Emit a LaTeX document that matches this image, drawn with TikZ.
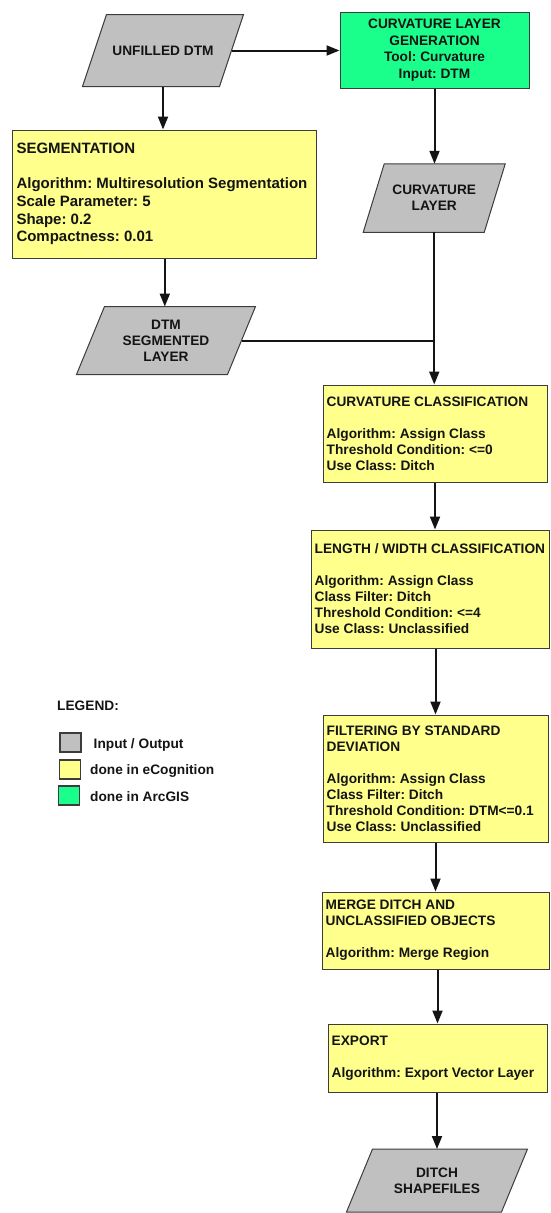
\documentclass[tikz,border=0pt]{standalone}
\usepackage{fontspec}
\setmainfont{Liberation Sans}
\usetikzlibrary{arrows.meta,calc,backgrounds}
\definecolor{iogray}{RGB}{192,192,192}
\definecolor{ecog}{RGB}{255,255,140}
\definecolor{arcg}{RGB}{26,255,140}
\definecolor{edgec}{RGB}{60,60,60}
\definecolor{ink}{RGB}{20,20,20}
\newcommand{\fnt}{\bfseries\fontsize{13.7}{16}\selectfont}
% parallelogram behind a named node: #1 node name, #2 slant (horizontal offset top vs bottom)
\newcommand{\iopara}[2]{%
  \begin{scope}[on background layer]
  \draw[draw=edgec,line width=1pt,fill=iogray]
    ($(#1.north west)+(#2/2,0)$) -- ($(#1.north east)+(#2/2,0)$) --
    ($(#1.south east)+(-#2/2,0)$) -- ($(#1.south west)+(-#2/2,0)$) -- cycle;
  \end{scope}}
\frenchspacing
\begin{document}
\frenchspacing
\begin{tikzpicture}[x=1pt,y=-1pt,
  box/.style={draw=edgec,line width=1pt,inner sep=0pt},
  proc/.style={box,fill=ecog},
  tool/.style={box,fill=arcg,align=center,text=ink,font=\bfseries\fontsize{13.7}{16.5}\selectfont},
  io/.style={line width=1pt,inner sep=0pt,align=center,text=ink,font=\fnt},
  txt/.style={anchor=west,align=left,inner sep=0pt,text=ink,font=\fnt},
  conn/.style={line width=2pt,draw=ink},
  arr/.style={conn,-{Triangle[length=13pt,width=10pt]}},
  keybox/.style={draw=edgec,line width=1.2pt,minimum width=21pt,minimum height=19pt,inner sep=0pt},
  keytxt/.style={anchor=base west,inner sep=0pt,text=ink,font=\fnt}
]
\useasboundingbox (0,0) rectangle (550,1213);

% nodes
\node[io, minimum width=136pt, minimum height=71pt] (ud) at (163,50.5) {UNFILLED DTM};
\iopara{ud}{24}
\node[tool, minimum width=189pt, minimum height=76pt] (gen) at (434.5,50) {CURVATURE LAYER\\GENERATION\\Tool: Curvature\\Input: DTM};

\node[proc, minimum width=304pt, minimum height=128pt] (seg) at (164.8,194) {};
\node[txt, font=\bfseries\fontsize{15}{17.7}\selectfont] (segt) at ([xshift=4pt]seg.west) {SEGMENTATION\\[17.7pt]Algorithm: Multiresolution Segmentation\\Scale Parameter: 5\\Shape: 0.2\\Compactness: 0.01};

\node[io, minimum width=120pt, minimum height=67.5pt] (cl) at (434.25,198) {CURVATURE\\LAYER};
\iopara{cl}{21}
\node[io, minimum width=150pt, minimum height=67pt] (ds) at (166,340.5) {DTM\\SEGMENTED\\LAYER};
\iopara{ds}{28}
\coordinate (jn) at (cl.south |- ds.east);

\node[proc, minimum width=224pt, minimum height=97pt] (cc) at (435,433.5) {};
\node[txt] (cct) at ([xshift=4pt]cc.west) {CURVATURE CLASSIFICATION\\[16pt]Algorithm: Assign Class\\Threshold Condition: <=0\\Use Class: Ditch};

\node[proc, minimum width=238pt, minimum height=118pt] (lw) at (430,589) {};
\node[txt] (lwt) at ([xshift=4pt]lw.west) {LENGTH / WIDTH CLASSIFICATION\\[16pt]Algorithm: Assign Class\\Class Filter: Ditch\\Threshold Condition: <=4\\Use Class: Unclassified};

\node[proc, minimum width=225pt, minimum height=127pt] (fs) at (435.5,778.5) {};
\node[txt] (fst) at ([xshift=4pt]fs.west) {FILTERING BY STANDARD\\DEVIATION\\[16pt]Algorithm: Assign Class\\Class Filter: Ditch\\Threshold Condition: DTM<=0.1\\Use Class: Unclassified};

\node[proc, minimum width=227pt, minimum height=77pt] (mg) at (435.5,930.5) {};
\node[txt] (mgt) at ([xshift=4pt]mg.west) {MERGE DITCH AND\\UNCLASSIFIED OBJECTS\\[16pt]Algorithm: Merge Region};

\node[proc, minimum width=219pt, minimum height=68pt] (ex) at (437.5,1058) {};
\node[txt] (ext) at ([xshift=4pt]ex.west) {EXPORT\\[16pt]Algorithm: Export Vector Layer};

\node[io, minimum width=154pt, minimum height=62pt] (sh) at (437,1180.5) {DITCH\\SHAPEFILES};
\iopara{sh}{26}

% legend
\node[keytxt] (lg) at (57,710.4) {LEGEND:};
\node[keybox, fill=iogray] (k1) at (70.5,742.5) {};
\node[keytxt] (t1) at (93.5,748) {Input / Output};
\node[keybox, fill=ecog] (k2) at (70,769.5) {};
\node[keytxt] (t2) at (90,774) {done in eCognition};
\node[keybox, fill=arcg] (k3) at (69,795.5) {};
\node[keytxt] (t3) at (90,801) {done in ArcGIS};

% connectors
\draw[arr] (ud.east) -- (ud.east -| gen.west);
\draw[arr] (ud.south) -- (ud.south |- seg.north);
\draw[arr] (gen.south) -- (gen.south |- cl.north);
\draw[arr] (seg.south) -- (seg.south |- ds.north);
\draw[conn] (ds.east) -- (jn);
\draw[arr] (cl.south) -- (cl.south |- cc.north);
\draw[arr] (cc.south) -- (cc.south |- lw.north);
\draw[arr] (fs.north |- lw.south) -- (fs.north);
\draw[arr] (mg.north |- fs.south) -- (mg.north);
\draw[arr] (ex.north |- mg.south) -- (ex.north);
\draw[arr] (sh.north |- ex.south) -- (sh.north);
\end{tikzpicture}
\end{document}
